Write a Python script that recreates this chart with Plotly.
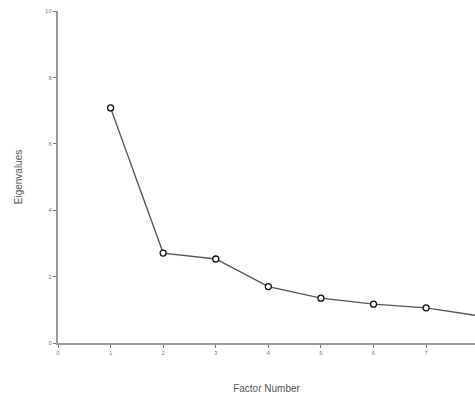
import plotly.graph_objects as go

factors = [1, 2, 3, 4, 5, 6, 7, 8, 9]
eigenvalues = [7.08, 2.71, 2.53, 1.70, 1.35, 1.17, 1.06, 0.82, 0.70]
x_ticks = [0, 1, 2, 3, 4, 5, 6, 7]
y_ticks = [0, 2, 4, 6, 8, 10]

fig = go.Figure()
fig.add_trace(go.Scatter(
    x=factors, y=eigenvalues, mode="lines+markers",
    line=dict(color="#555555", width=1.3),
    marker=dict(symbol="circle", size=6, color="white",
                line=dict(color="#111111", width=1.3)),
    cliponaxis=True, showlegend=False,
))

axis_common = dict(
    showgrid=False, zeroline=False, showline=True,
    linecolor="#9a9a9a", linewidth=2,
    ticks="outside", ticklen=3, tickwidth=1, tickcolor="#777777",
    tickfont=dict(family="Liberation Sans, Arial", size=6, color="#808080"),
)

fig.update_layout(
    width=475, height=401,
    margin=dict(l=58, r=0, t=11, b=58),
    paper_bgcolor="white", plot_bgcolor="white",
    font=dict(family="Liberation Sans, Arial", color="#555555"),
    xaxis=dict(range=[0, 7.93], tickvals=x_ticks,
               title=dict(text="Factor Number", font=dict(size=10, color="#555555"), standoff=30),
               automargin=False, **axis_common),
    yaxis=dict(range=[0, 10], tickvals=y_ticks,
               title=dict(text="Eigenvalues", font=dict(size=10, color="#555555"), standoff=21),
               automargin=False, **axis_common),
)

fig.write_html("out.html",
               config={"displayModeBar": False},
               post_script="document.body.style.margin='0';document.body.style.overflow='hidden';")
